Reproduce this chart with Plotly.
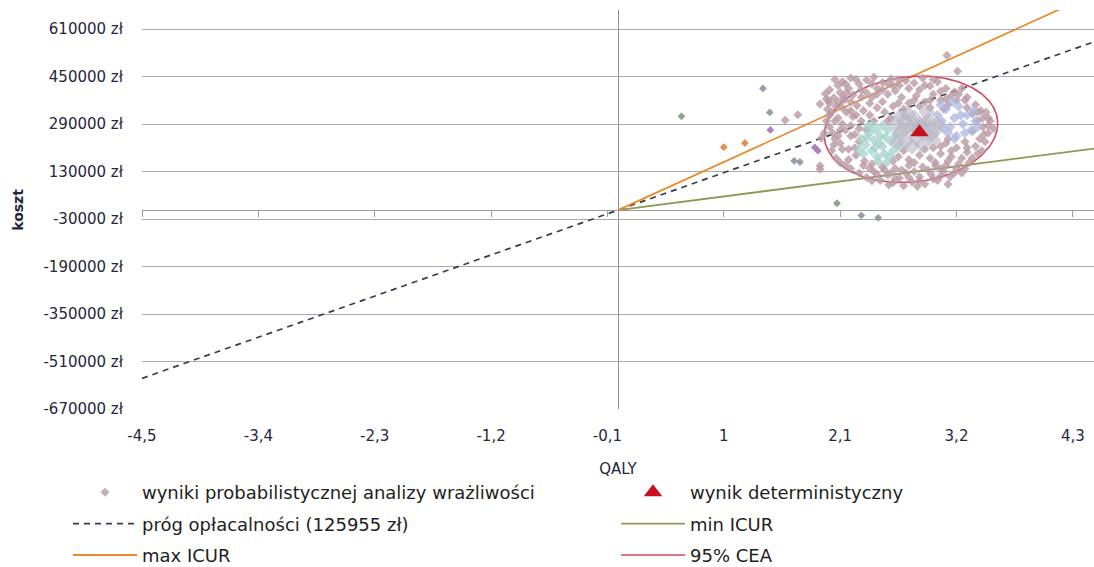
import numpy as np
import plotly.graph_objects as go

# ---------------- data ----------------
x_tick_vals = [-4.5, -3.4, -2.3, -1.2, -0.1, 1.0, 2.1, 3.2, 4.3]
x_tick_labels = ["-4,5", "-3,4", "-2,3", "-1,2", "-0,1", "1", "2,1", "3,2", "4,3"]
y_tick_vals = [610000, 450000, 290000, 130000, -30000, -190000, -350000, -510000, -670000]
y_tick_labels = ["610000 zł", "450000 zł", "290000 zł", "130000 zł", "-30000 zł",
                 "-190000 zł", "-350000 zł", "-510000 zł", "-670000 zł"]
x_range = [-4.5, 4.5]
y_range = [-670000, 674000]

# PSA results, split by rendered colour
psa_main_qaly = [
    2.05, 2.12, 2.20, 2.28, 2.35, 2.42, 2.50, 2.58, 2.66, 2.72, 2.80, 2.88, 2.95, 3.02, 3.10, 3.18, 2.45, 2.62, 2.30, 2.85,
    1.96, 2.00, 2.04, 2.08, 2.10, 2.14, 2.18, 2.22, 2.00, 2.06, 1.98, 2.12, 2.20, 2.26,
    1.97, 2.00, 2.03, 2.05, 2.08, 2.10, 2.12, 2.15, 2.18, 2.20, 2.22, 2.25, 2.28, 2.02, 2.06, 2.10, 2.15, 2.30, 2.32, 2.35, 2.00, 1.95, 2.16,
    2.20, 2.28, 2.35, 2.42, 2.48, 2.55, 2.60, 2.66, 2.72, 2.78, 2.85, 2.90, 2.96, 3.02, 3.08, 3.14, 3.20, 2.50, 2.62, 2.75, 2.88, 3.00, 2.40, 2.32, 3.25, 2.56, 2.70, 2.83,
    3.22, 3.28, 3.30, 3.35, 3.40, 3.45, 3.50, 3.42, 3.38, 3.30, 3.25, 3.48, 3.52, 3.35, 3.28, 3.20, 3.15, 3.32, 3.22, 3.44, 3.38, 3.25,
    2.40, 2.50, 2.55, 2.60, 2.68, 2.75, 2.82, 2.90, 2.98, 3.05, 3.12, 2.45, 2.70, 2.95, 2.38, 2.85, 3.08,
    2.65, 2.75, 2.85, 2.95, 3.05, 3.12, 2.70, 2.90, 3.00, 3.15, 2.80, 2.60,
    1.58, 1.70, 1.91, 1.97, 1.92, 1.91, 1.91, 3.12, 3.43, 3.50, 3.21, 3.11,
    2.25, 2.38, 2.52, 2.58, 2.28, 2.42, 2.55, 2.18, 2.24, 2.33, 2.38, 2.45, 2.52, 2.58, 2.68, 2.80, 2.93, 3.05, 3.10, 3.18,
    3.28, 2.62, 2.75, 2.98, 3.05, 2.40, 2.85, 3.10, 3.05, 3.12, 2.98, 2.60, 2.75, 2.90, 3.05, 3.15, 2.35, 2.50, 2.15, 2.25,
    2.40, 2.55, 2.65, 2.98, 3.20, 3.30, 3.40, 3.45, 3.50, 3.47, 3.40, 3.35, 3.30, 3.46, 3.55, 2.05, 2.10, 2.08, 2.12, 2.04,
    2.20, 2.24, 2.02, 2.13, 2.20, 1.99, 2.08, 2.16, 2.30, 2.45, 2.65, 2.80, 2.95, 3.10,
]
psa_main_cost = [
    440000, 432000, 445000, 425000, 438000, 448000, 430000, 442000, 420000, 436000, 428000, 445000, 418000, 432000, 410000, 398000, 410000, 402000, 405000, 405000,
    392000, 405000, 378000, 420000, 396000, 372000, 410000, 388000, 360000, 350000, 340000, 345000, 365000, 352000,
    300000, 280000, 260000, 240000, 310000, 225000, 290000, 270000, 205000, 250000, 315000, 185000, 230000, 200000, 175000, 160000, 150000, 300000, 335000, 270000, 320000, 260000, 330000,
    140000, 125000, 110000, 130000, 100000, 118000, 92000, 108000, 125000, 95000, 112000, 88000, 120000, 100000, 130000, 112000, 140000, 145000, 140000, 150000, 145000, 150000, 155000, 150000, 125000, 85000, 82000, 80000,
    390000, 370000, 345000, 325000, 300000, 280000, 260000, 240000, 215000, 195000, 175000, 330000, 300000, 265000, 230000, 210000, 180000, 160000, 155000, 200000, 355000, 410000,
    380000, 365000, 390000, 350000, 380000, 360000, 385000, 365000, 390000, 370000, 355000, 345000, 340000, 345000, 360000, 350000, 340000,
    180000, 170000, 185000, 175000, 190000, 165000, 200000, 205000, 160000, 200000, 160000, 165000,
    303000, 321000, 357000, 374000, 242000, 149000, 138000, 87000, 335000, 310000, 468000, 521000,
    320000, 320000, 330000, 310000, 275000, 300000, 300000, 170000, 210000, 165000, 140000, 120000, 135000, 125000, 135000, 130000, 135000, 140000, 150000, 125000,
    140000, 105000, 110000, 105000, 115000, 98000, 98000, 225000, 215000, 240000, 210000, 420000, 410000, 420000, 400000, 385000, 395000, 405000, 425000, 440000,
    425000, 425000, 440000, 440000, 370000, 380000, 330000, 310000, 285000, 230000, 190000, 175000, 210000, 255000, 275000, 300000, 270000, 250000, 205000, 220000,
    285000, 255000, 330000, 380000, 335000, 370000, 365000, 395000, 380000, 390000, 360000, 370000, 370000, 375000,
]
psa_teal_qaly = [2.30, 2.34, 2.38, 2.40, 2.42, 2.45, 2.48, 2.50, 2.52, 2.55, 2.58, 2.60, 2.36, 2.44,
                 2.62, 2.28, 2.46, 2.54, 2.40, 2.50, 2.32, 2.57, 2.65, 2.35, 2.47, 2.53, 2.43]
psa_teal_cost = [240000, 220000, 260000, 200000, 235000, 180000, 250000, 215000, 190000, 270000, 230000, 200000, 280000, 270000,
                 250000, 205000, 165000, 160000, 290000, 285000, 190000, 180000, 215000, 245000, 225000, 245000, 210000]
psa_blue_qaly = [3.02, 3.06, 3.10, 3.14, 3.18, 3.22, 3.26, 3.30, 3.34, 3.38, 3.12, 3.20, 3.28, 3.05,
                 3.16, 3.36, 3.24, 3.08, 3.40, 3.18]
psa_blue_cost = [320000, 300000, 340000, 280000, 310000, 350000, 290000, 320000, 270000, 300000, 260000, 250000, 260000, 355000,
                 365000, 335000, 320000, 275000, 280000, 240000]
psa_core_qaly = [2.62, 2.66, 2.70, 2.72, 2.76, 2.80, 2.82, 2.86, 2.90, 2.94, 2.98, 3.00, 2.68, 2.78,
                 2.88, 2.74, 2.92, 2.64, 3.02, 2.84, 2.70, 2.96, 2.80, 2.90]
psa_core_cost = [290000, 260000, 300000, 230000, 275000, 310000, 245000, 285000, 260000, 300000, 235000, 270000, 320000, 215000,
                 220000, 325000, 330000, 230000, 290000, 270000, 270000, 255000, 290000, 290000]
psa_purple_qaly = [1.44, 1.86, 1.89]
psa_purple_cost = [270000, 211000, 200000]
psa_orange_qaly = [1.00, 1.20]
psa_orange_cost = [212000, 226000]
psa_green_qaly = [0.60, 2.07]
psa_green_cost = [316000, 23000]
psa_slate_qaly = [1.37, 1.435, 1.665, 1.72, 2.30, 2.46]
psa_slate_cost = [410000, 329000, 166000, 162000, -18000, -26000]

# deterministic result
det_qaly = [2.85]
det_cost = [262000]

# thresholds / ICUR slopes (zł per QALY)
wtp_threshold = 125955
min_icur = 46000
max_icur = 162000
threshold_qaly = [-4.5, 4.5]
icur_qaly = [0.0, 4.5]

# 95% CEA ellipse parameters
cea_center_qaly = 2.77
cea_center_cost = 272000
cea_semi_qaly = 0.82
cea_semi_cost = 178000
cea_shear_cost = 20000

# ---------------- figure ----------------
fig = go.Figure()

# lines first (drawn beneath the point cloud)
thr_cost = [wtp_threshold * q for q in threshold_qaly]
fig.add_trace(go.Scatter(x=threshold_qaly, y=thr_cost, mode="lines",
                         name="próg opłacalności (125955 zł)", legend="legend", legendgroup="thr",
                         legendrank=2, hoverinfo="skip",
                         line=dict(color="#3b3b4f", width=1.7, dash="6px,5px")))
fig.add_trace(go.Scatter(x=icur_qaly, y=[min_icur * q for q in icur_qaly], mode="lines",
                         name="min ICUR", legend="legend2", legendgroup="min", legendrank=2,
                         hoverinfo="skip", line=dict(color="#8c9a55", width=1.8)))
fig.add_trace(go.Scatter(x=icur_qaly, y=[max_icur * q for q in icur_qaly], mode="lines",
                         name="max ICUR", legend="legend", legendgroup="max", legendrank=3,
                         hoverinfo="skip", line=dict(color="#e88a2e", width=1.8)))

t = np.linspace(0, 2 * np.pi, 241)
ell_q = cea_center_qaly + cea_semi_qaly * np.cos(t)
ell_c = cea_center_cost + cea_semi_cost * np.sin(t) + cea_shear_cost * np.cos(t)
fig.add_trace(go.Scatter(x=ell_q, y=ell_c, mode="lines", name="95% CEA", legend="legend2",
                         legendgroup="cea", legendrank=3, hoverinfo="skip",
                         line=dict(color="#cf4a60", width=1.6)))


def psa_trace(q, c, color, size=6, opacity=0.85, show=False):
    return go.Scatter(x=q, y=c, mode="markers", name="wyniki probabilistycznej analizy wrażliwości",
                      legendgroup="psa", showlegend=show, legend="legend", legendrank=1,
                      marker=dict(symbol="diamond", size=size, color=color, opacity=opacity,
                                  line=dict(width=0)),
                      hoverinfo="x+y")


fig.add_trace(psa_trace(psa_main_qaly, psa_main_cost, "#b99aa2", size=7, opacity=0.8, show=True))
fig.add_trace(psa_trace(psa_teal_qaly, psa_teal_cost, "#a3d1ca", size=8, opacity=0.75))
fig.add_trace(psa_trace(psa_blue_qaly, psa_blue_cost, "#adb6e0", size=8, opacity=0.75))
fig.add_trace(psa_trace(psa_core_qaly, psa_core_cost, "#b8b6c5", size=13, opacity=0.6))
fig.add_trace(psa_trace(psa_purple_qaly, psa_purple_cost, "#a673b8", size=6, opacity=0.9))
fig.add_trace(psa_trace(psa_orange_qaly, psa_orange_cost, "#e2813a", size=6, opacity=0.9))
fig.add_trace(psa_trace(psa_green_qaly, psa_green_cost, "#7f9a7c", size=6, opacity=0.9))
fig.add_trace(psa_trace(psa_slate_qaly, psa_slate_cost, "#8d93a3", size=6, opacity=0.9))

fig.add_trace(go.Scatter(x=det_qaly, y=det_cost, mode="markers", name="wynik deterministyczny",
                         legend="legend2", legendgroup="det", legendrank=1,
                         marker=dict(symbol="triangle-up", size=16, color="#c8101e", line=dict(width=0))))

tick_font = dict(family="DejaVu Sans", size=15, color="#26263e")
legend_font = dict(family="DejaVu Sans", size=18, color="#1e1e1e")
legend_common = dict(orientation="v", xref="container", yref="container",
                     xanchor="left", yanchor="top", itemwidth=64,
                     font=legend_font, bgcolor="rgba(0,0,0,0)",
                     traceorder="grouped", tracegroupgap=5)

fig.update_layout(
    width=1094, height=567, autosize=False,
    margin=dict(l=142, r=0, t=10, b=158, autoexpand=False),
    paper_bgcolor="white", plot_bgcolor="white",
    showlegend=True,
    legend=dict(x=68 / 1094, y=1 - 474 / 567, **legend_common),
    legend2=dict(x=616 / 1094, y=1 - 474 / 567, **legend_common),
    xaxis=dict(range=x_range, tickvals=x_tick_vals, ticktext=x_tick_labels,
               showgrid=False, zeroline=True, zerolinecolor="#8e909c", zerolinewidth=1.4,
               ticks="", ticklabelstandoff=16, tickfont=tick_font, showline=False,
               title=dict(text="QALY", font=dict(family="DejaVu Sans", size=15, color="#26263e"),
                          standoff=19)),
    xaxis2=dict(overlaying="x", anchor="free",
                position=(0 - y_range[0]) / (y_range[1] - y_range[0]),
                range=x_range, tickvals=x_tick_vals, showticklabels=False,
                ticks="outside", ticklen=6, tickcolor="#9a9ca8", tickwidth=1,
                showline=True, linecolor="#9a9ca8", linewidth=1.3,
                showgrid=False, zeroline=False, side="bottom"),
    yaxis=dict(range=y_range, tickvals=y_tick_vals, ticktext=y_tick_labels,
               showgrid=True, gridcolor="#a9abb3", gridwidth=1, zeroline=False,
               ticks="", ticklabelstandoff=18, tickfont=tick_font, showline=False),
    annotations=[dict(text="<b>koszt</b>", textangle=-90, xref="paper", yref="paper",
                      x=-0.131, y=0.5, xanchor="center", yanchor="middle", showarrow=False,
                      font=dict(family="DejaVu Sans", size=14, color="#26263e"))],
)

fig.add_trace(go.Scatter(x=[None], y=[None], xaxis="x2", showlegend=False, hoverinfo="skip"))

fig.write_html("out.html")
